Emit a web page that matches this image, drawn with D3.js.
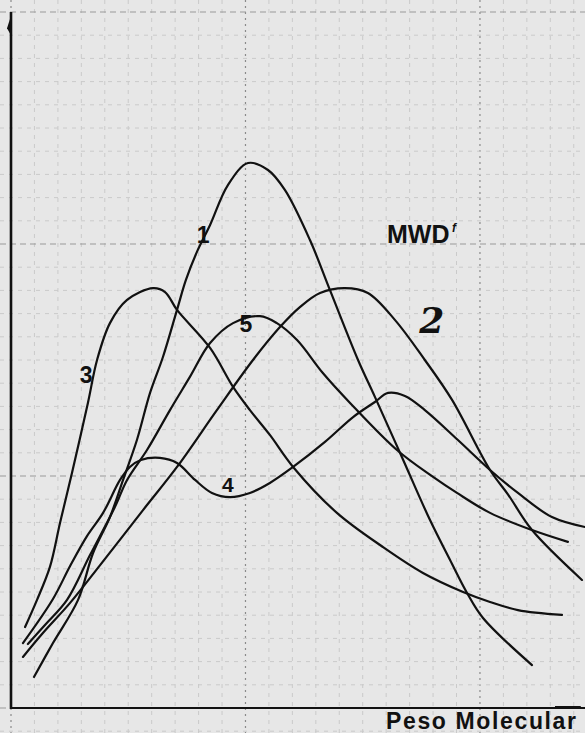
<!DOCTYPE html>
<html>
<head>
<meta charset="utf-8">
<script src="https://cdn.jsdelivr.net/npm/d3@7"></script>
<style>
  html, body { margin: 0; padding: 0; background: #e6e6e6; }
  svg { display: block; }
  .lbl { font-family: 'Liberation Sans', Arial, sans-serif; font-weight: bold; fill: #111; }
</style>
</head>
<body>
<div id="chart"></div>
<script>
/* Global variables */
const width = 585;
const height = 733;

// Curves, in grid squares: [x, y]
const curve1 = [
  [0.98, 1.34], [1.79, 2.8], [2.86, 4.66], [3.5, 6.68], [4.22, 8.23], [4.78, 9.83],
  [5.37, 11.55], [5.93, 13.58], [6.48, 15.13], [7.08, 17.16], [7.46, 18.45],
  [7.93, 19.66], [8.49, 20.82], [9.25, 22.54], [10.11, 23.49], [10.96, 23.19],
  [11.68, 22.33], [12.75, 20.17], [13.6, 18.02], [14.8, 15.0], [15.52, 13.41],
  [16.67, 10.82], [17.87, 8.1], [18.72, 6.39], [19.45, 4.96], [20.13, 3.88],
  [22.22, 1.85],
];
const curve2 = [
  [0.51, 2.2], [1.36, 3.23], [2.52, 4.53], [3.8, 6.16], [5.63, 8.53], [7.08, 10.39],
  [8.78, 12.84], [10.32, 15.0], [11.47, 16.42], [12.32, 17.28], [13.18, 17.89],
  [14.24, 18.1], [15.22, 17.89], [16.38, 16.72], [17.65, 15.0], [18.81, 13.28],
  [20.43, 10.26], [21.2, 9.2], [22.22, 7.67], [24.35, 5.52],
];
const curve3 = [
  [0.6, 3.49], [1.11, 4.66], [1.66, 6.08], [2.09, 7.97], [2.6, 10.13], [3.28, 13.15],
  [3.67, 15.0], [4.22, 16.59], [4.95, 17.59], [6.06, 18.1], [6.57, 17.93],
  [7.08, 17.16], [8.49, 15.52], [9.47, 13.84], [10.19, 12.84], [11.04, 11.77],
  [12.03, 10.39], [13.9, 8.41], [15.86, 6.94], [17.57, 5.82], [19.28, 5.0],
  [20.43, 4.57], [21.62, 4.22], [23.5, 4.01],
];
const curve4 = [
  [0.51, 2.8], [1.79, 4.7], [2.52, 6.12], [3.24, 7.41], [3.92, 8.4], [4.65, 9.83],
  [5.07, 10.39], [5.54, 10.69], [6.35, 10.78], [7.08, 10.56], [7.85, 9.83],
  [8.57, 9.27], [9.34, 9.09], [10.19, 9.27], [11.04, 9.7], [12.03, 10.39],
  [13.39, 11.47], [14.59, 12.54], [15.52, 13.19], [16.08, 13.58], [16.8, 13.45],
  [17.65, 12.84], [19.06, 11.55], [20.43, 10.26], [21.62, 9.27], [23.07, 8.23],
  [24.48, 7.8],
];
const curve5 = [
  [0.72, 2.76], [1.45, 3.58], [2.39, 4.66], [3.37, 6.59], [4.43, 8.66], [4.95, 9.83],
  [5.8, 11.12], [6.78, 12.84], [7.63, 14.27], [8.49, 15.73], [9.47, 16.59],
  [10.62, 16.89], [11.34, 16.59], [12.2, 15.86], [13.3, 14.44], [14.46, 13.15],
  [16.46, 11.12], [18.0, 9.96], [19.02, 9.27], [20.43, 8.41], [22.22, 7.67],
  [23.75, 7.16],
];
const curves = [curve1, curve2, curve3, curve4, curve5];

// Curve numbers and where they sit (grid squares)
const curveLabels = ['1', '3', '5', '4'];
const curveLabelPos = [[8.19, 20.04], [3.2, 14.0], [10.02, 16.2], [9.25, 9.31]];

const yLabel = 'MWD';
const ySup = 'f';
const xLabel = 'Peso Molecular';

// Scales: one unit = one square of the graph paper
const x = d3.scaleLinear().domain([0, 24.48]).range([11, 585]);
const y = d3.scaleLinear().domain([0, 30]).range([708, 12]);

const svg = d3
  .select('#chart')
  .append('svg')
  .attr('width', width)
  .attr('height', height)
  .attr('viewBox', '0 0 ' + width + ' ' + height);

svg.append('rect').attr('width', width).attr('height', height).attr('fill', '#e7e7e7');

// Graph paper grid
const grid = svg.append('g').attr('class', 'grid');
const xs = d3.range(0, 25);
const ys = d3.range(-1, 31);

grid
  .selectAll('line.v')
  .data(xs)
  .join('line')
  .attr('class', 'v')
  .attr('x1', (d) => x(d))
  .attr('x2', (d) => x(d))
  .attr('y1', 0)
  .attr('y2', height)
  .attr('stroke', (d) => (d % 10 == 0 ? '#8a8a8a' : '#cacaca'))
  .attr('stroke-width', (d) => (d % 10 == 0 ? 1.2 : 1))
  .attr('stroke-dasharray', (d) => (d % 10 == 0 ? '2,4' : '4,5'));

grid
  .selectAll('line.h')
  .data(ys)
  .join('line')
  .attr('class', 'h')
  .attr('x1', 0)
  .attr('x2', width)
  .attr('y1', (d) => y(d))
  .attr('y2', (d) => y(d))
  .attr('stroke', (d) => (d % 10 == 0 ? '#9a9a9a' : '#cacaca'))
  .attr('stroke-width', (d) => (d % 10 == 0 ? 1.2 : 1))
  .attr('stroke-dasharray', (d) => (d % 10 == 0 ? '6,4' : '4,5'));

// Axes
svg
  .append('line')
  .attr('x1', x(0))
  .attr('x2', x(0))
  .attr('y1', y(30))
  .attr('y2', y(0) + 1)
  .attr('stroke', '#111')
  .attr('stroke-width', 2.6);

svg
  .append('path')
  .attr('d', `M${x(0) - 4},${y(29.3)} L${x(0)},${y(30) + 4} L${x(0)},${y(29)} Z`)
  .attr('fill', '#111');

svg
  .append('line')
  .attr('x1', x(0) - 1)
  .attr('x2', width)
  .attr('y1', y(0))
  .attr('y2', y(0))
  .attr('stroke', '#111')
  .attr('stroke-width', 2);

svg
  .append('line')
  .attr('x1', x(23.2))
  .attr('x2', x(24.3))
  .attr('y1', y(0) - 1)
  .attr('y2', y(0) - 1)
  .attr('stroke', '#111')
  .attr('stroke-width', 2);

// Curves
const line = d3
  .line()
  .x((d) => x(d[0]))
  .y((d) => y(d[1]))
  .curve(d3.curveCatmullRom.alpha(0.5));

svg
  .append('g')
  .selectAll('path')
  .data(curves)
  .join('path')
  .attr('d', line)
  .attr('fill', 'none')
  .attr('stroke', '#111')
  .attr('stroke-width', 2.2)
  .attr('stroke-linecap', 'round');

// Curve numbers
svg
  .append('g')
  .selectAll('text')
  .data(curveLabels)
  .join('text')
  .attr('class', 'lbl')
  .attr('x', (d, i) => x(curveLabelPos[i][0]))
  .attr('y', (d, i) => y(curveLabelPos[i][1]))
  .attr('font-size', (d) => (d == '4' ? 21 : 23))
  .attr('text-anchor', 'middle')
  .text((d) => d);

// the hand-written "2"
svg
  .append('text')
  .attr('x', x(17.95))
  .attr('y', y(16.15))
  .attr('text-anchor', 'middle')
  .attr('font-family', "'DejaVu Serif', serif")
  .attr('font-weight', 'bold')
  .attr('font-style', 'italic')
  .attr('font-size', 36)
  .attr('fill', '#111')
  .text('2');

// MWD label
const mwd = svg
  .append('text')
  .attr('class', 'lbl')
  .attr('x', 387)
  .attr('y', 243)
  .attr('font-size', 25);
mwd.append('tspan').text(yLabel);
mwd
  .append('tspan')
  .attr('x', 452)
  .attr('y', 232)
  .attr('font-size', 12)
  .attr('font-style', 'italic')
  .text(ySup);

// X label
svg
  .append('text')
  .attr('class', 'lbl')
  .attr('x', 386)
  .attr('y', 729)
  .attr('font-size', 23)
  .attr('textLength', 190)
  .attr('lengthAdjust', 'spacing')
  .text(xLabel);
</script>
</body>
</html>
